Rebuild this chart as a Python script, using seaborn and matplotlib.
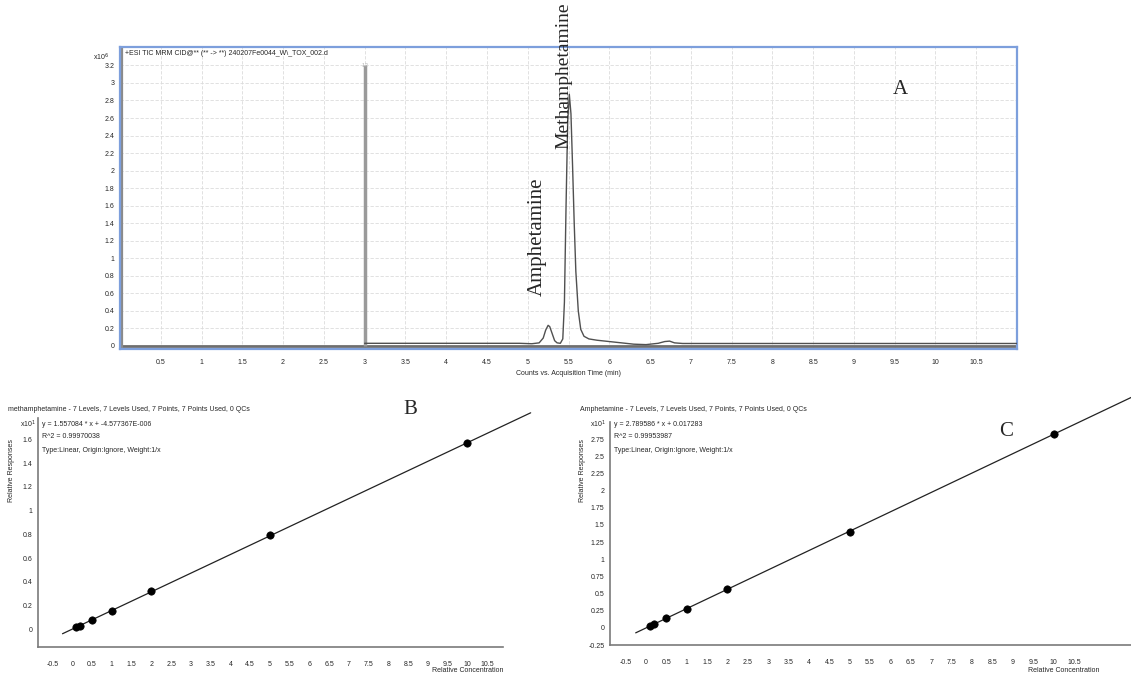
import numpy as np
import pandas as pd
import matplotlib
matplotlib.use("Agg")
import matplotlib.pyplot as plt
import seaborn as sns

# ---------------- data ----------------
# Panel A: TIC chromatogram (x10^6 counts) vs acquisition time (min)
time_min = [3.0, 4.0, 4.9, 5.05, 5.14, 5.19, 5.22, 5.25, 5.27, 5.30, 5.33, 5.36, 5.40,
            5.43, 5.45, 5.47, 5.49, 5.51, 5.53, 5.55, 5.57, 5.59, 5.62, 5.65, 5.69,
            5.75, 5.85, 6.0, 6.15, 6.3, 6.45, 6.6, 6.68, 6.74, 6.8, 6.9, 7.5, 9.0, 11.0]
counts_e6 = [0.03, 0.03, 0.03, 0.025, 0.035, 0.09, 0.18, 0.235, 0.22, 0.14, 0.06, 0.035, 0.03,
             0.08, 0.5, 1.6, 2.55, 2.87, 2.65, 2.05, 1.4, 0.85, 0.4, 0.19, 0.11,
             0.08, 0.065, 0.05, 0.035, 0.02, 0.015, 0.03, 0.05, 0.055, 0.035, 0.028, 0.028, 0.028, 0.028]
a_xticks = [0.5, 1, 1.5, 2, 2.5, 3, 3.5, 4, 4.5, 5, 5.5, 6, 6.5, 7, 7.5, 8, 8.5, 9, 9.5, 10, 10.5]
a_yticks = [0, 0.2, 0.4, 0.6, 0.8, 1, 1.2, 1.4, 1.6, 1.8, 2, 2.2, 2.4, 2.6, 2.8, 3, 3.2]

# Panels B / C: calibration curves (x10^1 relative response)
conc = [0.1, 0.2, 0.5, 1, 2, 5, 10]
meth_resp = [0.016, 0.031, 0.078, 0.156, 0.32, 0.79, 1.57]
amph_resp = [0.03, 0.06, 0.14, 0.28, 0.56, 1.39, 2.83]
cal_xticks = [-0.5, 0, 0.5, 1, 1.5, 2, 2.5, 3, 3.5, 4, 4.5, 5, 5.5, 6, 6.5, 7, 7.5, 8, 8.5, 9, 9.5, 10, 10.5]
b_yticks = [0, 0.2, 0.4, 0.6, 0.8, 1, 1.2, 1.4, 1.6]
c_yticks = [-0.25, 0, 0.25, 0.5, 0.75, 1, 1.25, 1.5, 1.75, 2, 2.25, 2.5, 2.75]

header_a = "+ESI TIC MRM CID@** (** -> **) 240207Fe0044_W\\_TOX_002.d"
header_b = "methamphetamine - 7 Levels, 7 Levels Used, 7 Points, 7 Points Used, 0 QCs"
eq_b = ["y = 1.557084 * x + -4.577367E-006", "R^2 = 0.99970038", "Type:Linear, Origin:Ignore, Weight:1/x"]
header_c = "Amphetamine - 7 Levels, 7 Levels Used, 7 Points, 7 Points Used, 0 QCs"
eq_c = ["y = 2.789586 * x + 0.017283", "R^2 = 0.99953987", "Type:Linear, Origin:Ignore, Weight:1/x"]

# ---------------- style ----------------
sns.set_style("white")
plt.rcParams['font.family'] = ['Liberation Sans', 'DejaVu Sans']
W, H = 1131, 677
fig = plt.figure(figsize=(W / 100, H / 100), dpi=100)


def fax(l, t, r, b):
    return fig.add_axes([l / W, 1 - b / H, (r - l) / W, (b - t) / H])


def fmt(v):
    return ("%g" % v)


# ---------------- Panel A ----------------
axA = fax(120, 47, 1017, 349)
dfA = pd.DataFrame({"t": time_min, "c": counts_e6})
axA.set_xlim(0, 11)
axA.set_ylim(-0.035, 3.41)
axA.set_xticks(a_xticks)
axA.set_xticklabels([fmt(v) for v in a_xticks], fontsize=5)
axA.set_yticks(a_yticks)
axA.set_yticklabels([fmt(v) for v in a_yticks], fontsize=5)
axA.grid(True, color='#dcdcdc', lw=0.6, ls=(0, (4, 2)))
axA.tick_params(axis='both', length=2, width=0.6, pad=5, color='#444')
axA.tick_params(axis='y', pad=2)
for s in axA.spines.values():
    s.set_color('#7d9fdc')
    s.set_linewidth(1.6)
axA.axhline(0, color='#6e6e6e', lw=2.0, zorder=2)
axA.axvline(0.03, color='#8a8a8a', lw=1.6, zorder=2)
axA.vlines(3, 0, 3.2, color='#9a9a9a', lw=2.5, zorder=2)
axA.text(3.0, 3.2, "1.2", fontsize=3.5, color='#aaaaaa', ha='center', va='center')
sns.lineplot(data=dfA, x="t", y="c", ax=axA, color='#505050', lw=1.0, zorder=3)
axA.set_xlabel("Counts vs. Acquisition Time (min)", fontsize=5, labelpad=3)
axA.set_ylabel("")
axA.text(0.06, 3.34, header_a, fontsize=5, va='center', ha='left')
fig.text(93 / W, 1 - 57 / H, r"x10$^{6}$", fontsize=5, ha='left', va='center')
fig.text(537 / W, 1 - 237 / H, "Amphetamine", rotation=90, fontsize=15,
         family='Liberation Serif', ha='center', va='center')
fig.text(564 / W, 1 - 76 / H, "Methamphetamine", rotation=90, fontsize=14,
         family='Liberation Serif', ha='center', va='center')
fig.text(900 / W, 1 - 90 / H, "A", fontsize=15, family='Liberation Serif', ha='center', va='center')


# ---------------- Panels B / C ----------------
def cal_panel(ax, y, yticks, ylim, xlim, header, eqs, hx, eqx, ylab_x, x10_x, label, lab_xy,
              xlab_x, xlab_ha):
    df = pd.DataFrame({"x": conc, "y": y})
    ax.set_xlim(*xlim)
    ax.set_ylim(*ylim)
    slope, icpt = np.polyfit(df["x"], df["y"], 1)
    xs = np.array([-0.25, xlim[1] + 0.7])
    ax.plot(xs, slope * xs + icpt, color='#222', lw=0.9, clip_on=False, zorder=2)
    sns.scatterplot(data=df, x="x", y="y", ax=ax, color='black', s=28, marker='o',
                    edgecolor='black', linewidth=0.5, zorder=3)
    ax.set_xticks(cal_xticks)
    ax.set_xticklabels([fmt(v) for v in cal_xticks], fontsize=5)
    ax.set_yticks(yticks)
    ax.set_yticklabels([fmt(v) for v in yticks], fontsize=5)
    ax.tick_params(axis='both', length=2, width=0.6, pad=8, color='#555')
    ax.tick_params(axis='y', pad=2)
    for k in ['top', 'right']:
        ax.spines[k].set_visible(False)
    for k in ['left', 'bottom']:
        ax.spines[k].set_color('#7a7a7a')
        ax.spines[k].set_linewidth(1.2)
    ax.set_xlabel("")
    ax.set_ylabel("")
    fig.text(hx / W, 1 - 410 / H, header, fontsize=5, ha='left', va='center')
    for i, e in enumerate(eqs):
        fig.text(eqx / W, 1 - (424 + 13 * i) / H, e, fontsize=5, ha='left', va='center')
    fig.text(ylab_x / W, 1 - 470 / H, "Relative Responses", rotation=90, fontsize=5,
             ha='center', va='center')
    fig.text(x10_x / W, 1 - 424 / H, r"x10$^{1}$", fontsize=5, ha='left', va='center')
    fig.text(xlab_x / W, 1 - 671 / H, "Relative Concentration", fontsize=5, ha=xlab_ha, va='center')
    fig.text(lab_xy[0] / W, 1 - lab_xy[1] / H, label, fontsize=15, family='Liberation Serif',
             ha='center', va='center')


axB = fax(38, 418, 503, 647)
cal_panel(axB, meth_resp, b_yticks, (-0.15, 1.78), (-0.87, 10.9), header_b, eq_b,
          8, 42, 12, 20, "B", (410, 410), 503, 'right')

axC = fax(610, 422, 1131, 645)
cal_panel(axC, amph_resp, c_yticks, (-0.25, 3.0), (-0.88, 11.9), header_c, eq_c,
          580, 614, 583, 590, "C", (1006, 432), 1028, 'left')

fig.savefig("out.png", dpi=100)
